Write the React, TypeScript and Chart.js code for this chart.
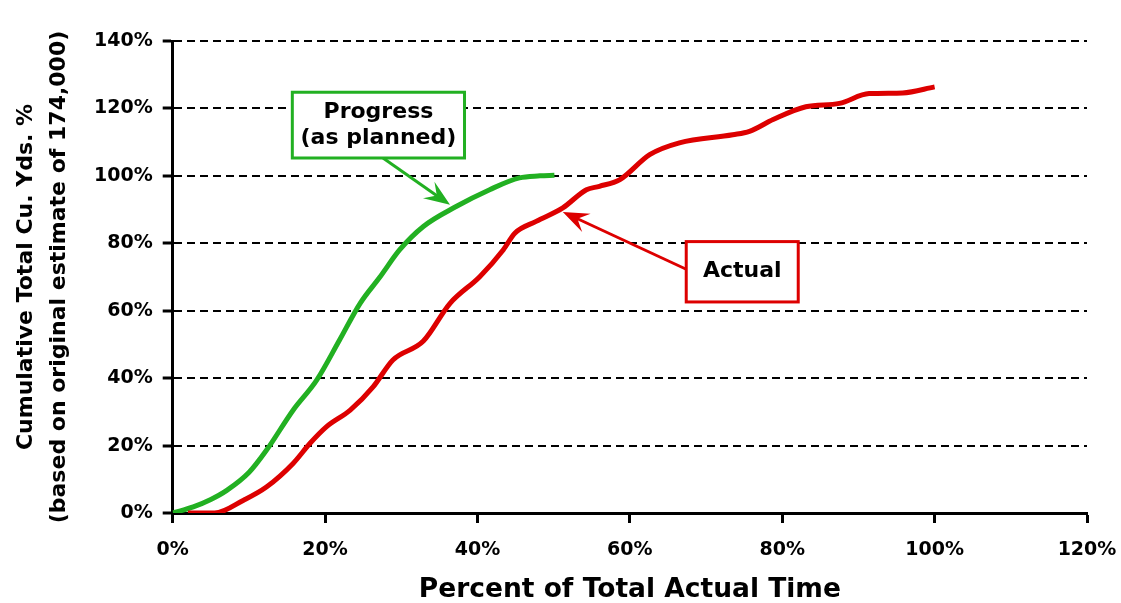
import React, { useEffect, useRef } from "react";
import { Chart, registerables } from "chart.js";

Chart.register(...registerables);

// ---- data (percent of total actual time vs cumulative %) ----
const plannedX = [0, 2.7, 5, 7.1, 10, 12.3, 15.8, 18.9, 21.9, 24.6, 27.2, 29.8, 32.9, 37.2, 41.6, 45.5, 48.2, 50.1];
const plannedY = [0, 1.8, 4, 6.7, 12, 18.6, 30.5, 39.4, 51.3, 62.2, 70, 78.1, 85, 90.9, 95.9, 99.4, 100, 100.2];

const actualX = [2, 5.5, 9.3, 12.3, 15.8, 18.0, 20.2, 23.3, 26.3, 28.9, 32.9, 36.4, 40.3, 43.4, 44.9, 47.7, 51.2, 54.3, 56.0, 58.7, 62.6, 66.5, 73.5, 75.7, 78.8, 83.1, 87.5, 91.4, 95.8, 100];
const actualY = [0, 0, 3.8, 7.7, 14.7, 20.6, 25.6, 30.5, 37.4, 45.4, 51, 62.2, 70.1, 78.1, 83.0, 86.5, 90.5, 95.9, 96.9, 98.9, 106.3, 109.8, 112.2, 113.2, 116.7, 120.5, 121.5, 124.4, 124.6, 126.4];

const xTickValues = [0, 20, 40, 60, 80, 100, 120];
const yTickValues = [0, 20, 40, 60, 80, 100, 120, 140];

const xTitle = "Percent of Total Actual Time";
const yTitle = ["Cumulative Total Cu. Yds. %", "(based on original estimate of 174,000)"];

const plannedLabel = ["Progress", "(as planned)"];
const actualLabel = ["Actual"];

// ---- styles ----
const GREEN = "#22b022";
const RED = "#dd0000";
const FONT = "'DejaVu Sans', 'Liberation Sans', sans-serif";

// annotation boxes/arrows in data coordinates
const callouts = [
  { lines: plannedLabel, color: GREEN, box: [15.7, 124.8, 38.3, 105.3], from: [27.6, 105.3], to: [36.4, 91.4] },
  { lines: actualLabel, color: RED, box: [67.4, 80.5, 82.1, 62.6], from: [67.4, 72.3], to: [51.2, 89.3] },
];

const calloutPlugin = {
  id: "callouts",
  afterDatasetsDraw(chart: any) {
    const { ctx, scales } = chart;
    const xs = scales.x;
    const ys = scales.y;
    ctx.save();
    for (const c of callouts) {
      const x1 = xs.getPixelForValue(c.box[0]);
      const y1 = ys.getPixelForValue(c.box[1]);
      const x2 = xs.getPixelForValue(c.box[2]);
      const y2 = ys.getPixelForValue(c.box[3]);
      const fx = xs.getPixelForValue(c.from[0]);
      const fy = ys.getPixelForValue(c.from[1]);
      const tx = xs.getPixelForValue(c.to[0]);
      const ty = ys.getPixelForValue(c.to[1]);
      const dx = tx - fx;
      const dy = ty - fy;
      const len = Math.hypot(dx, dy);
      const ux = dx / len;
      const uy = dy / len;
      const nx = -uy;
      const ny = ux;
      const L = 26;
      const W = 20;
      ctx.strokeStyle = c.color;
      ctx.fillStyle = c.color;
      ctx.lineWidth = 3;
      ctx.setLineDash([]);
      ctx.beginPath();
      ctx.moveTo(fx, fy);
      ctx.lineTo(tx - ux * L * 0.6, ty - uy * L * 0.6);
      ctx.stroke();
      ctx.beginPath();
      ctx.moveTo(tx, ty);
      ctx.lineTo(tx - ux * L + nx * W / 2, ty - uy * L + ny * W / 2);
      ctx.lineTo(tx - ux * L * 0.62, ty - uy * L * 0.62);
      ctx.lineTo(tx - ux * L - nx * W / 2, ty - uy * L - ny * W / 2);
      ctx.closePath();
      ctx.fill();
      ctx.fillStyle = "#ffffff";
      ctx.fillRect(x1, y1, x2 - x1, y2 - y1);
      ctx.lineWidth = 3;
      ctx.strokeStyle = c.color;
      ctx.strokeRect(x1, y1, x2 - x1, y2 - y1);
      ctx.fillStyle = "#000000";
      ctx.font = `bold 22px ${FONT}`;
      ctx.textAlign = "center";
      ctx.textBaseline = "middle";
      const cx = (x1 + x2) / 2;
      const cy = (y1 + y2) / 2;
      const lh = 26.5;
      const n = c.lines.length;
      c.lines.forEach((t, i) => {
        ctx.fillText(t, cx, cy + (i - (n - 1) / 2) * lh);
      });
    }
    ctx.restore();
  },
};

export default function App() {
  const ref = useRef<HTMLCanvasElement | null>(null);

  useEffect(() => {
    if (!ref.current) return;
    const chart = new Chart(ref.current, {
      type: "line",
      data: {
        datasets: [
          {
            label: "Actual",
            data: actualX.map((x, i) => ({ x, y: actualY[i] })),
            borderColor: RED,
            borderWidth: 5,
            pointRadius: 0,
            cubicInterpolationMode: "monotone",
            fill: false,
          },
          {
            label: "Progress (as planned)",
            data: plannedX.map((x, i) => ({ x, y: plannedY[i] })),
            borderColor: GREEN,
            borderWidth: 5,
            pointRadius: 0,
            cubicInterpolationMode: "monotone",
            fill: false,
          },
        ],
      },
      options: {
        animation: false,
        responsive: false,
        devicePixelRatio: 1,
        layout: { padding: { top: 41, right: 34, left: 0, bottom: 0 } },
        plugins: {
          legend: { display: false },
          tooltip: { enabled: false },
        },
        scales: {
          x: {
            type: "linear",
            min: 0,
            max: 120,
            afterBuildTicks: (s: any) => {
              s.ticks = xTickValues.map((v) => ({ value: v }));
            },
            afterFit: (s: any) => {
              s.height = 90;
              s.paddingRight = 10;
              s.paddingLeft = 0;
            },
            ticks: {
              callback: (v: any) => v + "%",
              font: { family: FONT, size: 19, weight: "bold" },
              color: "#000",
              padding: 16,
              maxRotation: 0,
            },
            grid: {
              drawOnChartArea: false,
              drawTicks: true,
              tickLength: 10,
              tickWidth: 3,
              tickColor: "#000",
              tickBorderDash: [],
            },
            border: { display: true, color: "#000", width: 3 },
            title: {
              display: true,
              text: xTitle,
              font: { family: FONT, size: 26.5, weight: "bold", lineHeight: 1.0 },
              color: "#000",
              padding: { top: 0, bottom: 0 },
            },
          },
          y: {
            type: "linear",
            min: 0,
            max: 140,
            afterBuildTicks: (s: any) => {
              s.ticks = yTickValues.map((v) => ({ value: v }));
            },
            afterFit: (s: any) => {
              s.width = 172.7;
            },
            ticks: {
              callback: (v: any) => v + "%",
              font: { family: FONT, size: 19, weight: "bold" },
              color: "#000",
              padding: 10,
            },
            grid: {
              drawOnChartArea: true,
              color: "#000",
              lineWidth: 2,
              drawTicks: true,
              tickLength: 10,
              tickWidth: 3,
              tickColor: "#000",
              tickBorderDash: [],
            },
            border: { display: true, color: "#000", width: 3, dash: [8, 5] },
            title: {
              display: true,
              text: yTitle,
              font: { family: FONT, size: 22, weight: "bold", lineHeight: 1.5 },
              color: "#000",
              padding: { top: 10, bottom: 0 },
            },
          },
        },
      },
      plugins: [calloutPlugin],
    } as any);
    return () => chart.destroy();
  }, []);

  return (
    <div style={{ position: "absolute", left: 0, top: 0, width: 1121, height: 603, background: "#fff" }}>
      <canvas ref={ref} width={1121} height={603} style={{ display: "block", width: 1121, height: 603 }} />
    </div>
  );
}
